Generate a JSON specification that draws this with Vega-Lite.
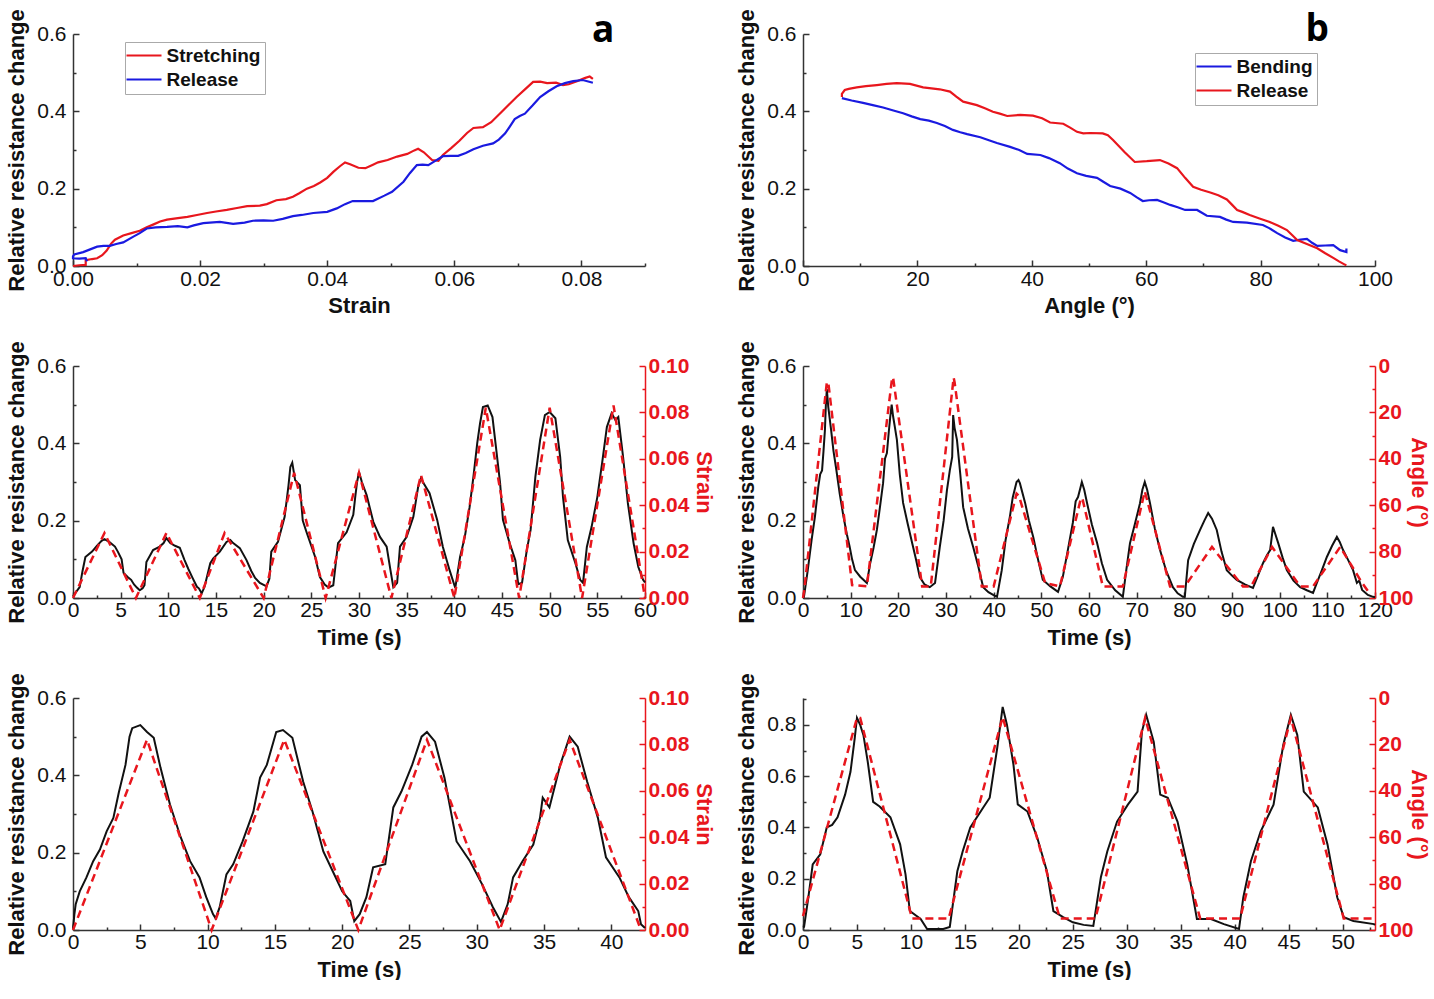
{
"$schema": "https://vega.github.io/schema/vega-lite/v6.json",
"background": "white",
"padding": {"left": 5, "top": 8, "right": 12, "bottom": 0},
"config": {
  "view": {"stroke": null},
  "font": "Liberation Sans",
  "axis": {"grid": false, "domainColor": "#333", "tickColor": "#333", "domainWidth": 1.5, "tickWidth": 1.5, "labelFont": "Liberation Sans", "labelFontSize": 21, "labelColor": "#111", "titleFont": "Liberation Sans", "titleFontSize": 22, "titleFontWeight": "bold", "titleColor": "#111", "labelOverlap": false, "labelFlush": false},
  "legend": {"orient": "none", "title": null, "symbolType": "M-3.5,0H3.5", "symbolSize": 100, "symbolOffset": 5.5, "symbolStrokeWidth": 2.2, "labelFont": "Liberation Sans", "labelFontSize": 19, "labelFontWeight": "bold", "labelColor": "#111", "strokeColor": "#aaa", "fillColor": "white", "padding": 4, "rowPadding": 4, "labelOffset": 13},
  "text": {"font": "Open Sans", "fontWeight": "bold", "fontSize": 37, "align": "center", "baseline": "alphabetic", "color": "#000"}
},
"datasets": {
  "a": [
    {"strain":0,"r":0,"series":"Stretching"},{"strain":0.001,"r":0.002,"series":"Stretching"},{"strain":0.002,"r":0.003,"series":"Stretching"},{"strain":0.002,"r":0.015,"series":"Stretching"},{"strain":0.003,"r":0.018,"series":"Stretching"},{"strain":0.0038,"r":0.02,"series":"Stretching"},{"strain":0.0046,"r":0.028,"series":"Stretching"},{"strain":0.0053,"r":0.04,"series":"Stretching"},{"strain":0.006,"r":0.058,"series":"Stretching"},{"strain":0.0066,"r":0.068,"series":"Stretching"},{"strain":0.0079,"r":0.079,"series":"Stretching"},{"strain":0.0092,"r":0.085,"series":"Stretching"},{"strain":0.0105,"r":0.091,"series":"Stretching"},{"strain":0.0116,"r":0.1,"series":"Stretching"},{"strain":0.0126,"r":0.107,"series":"Stretching"},{"strain":0.0137,"r":0.115,"series":"Stretching"},{"strain":0.0148,"r":0.12,"series":"Stretching"},{"strain":0.0165,"r":0.124,"series":"Stretching"},{"strain":0.018,"r":0.127,"series":"Stretching"},{"strain":0.0195,"r":0.132,"series":"Stretching"},{"strain":0.0211,"r":0.137,"series":"Stretching"},{"strain":0.0225,"r":0.141,"series":"Stretching"},{"strain":0.0242,"r":0.145,"series":"Stretching"},{"strain":0.0258,"r":0.15,"series":"Stretching"},{"strain":0.0274,"r":0.155,"series":"Stretching"},{"strain":0.0294,"r":0.156,"series":"Stretching"},{"strain":0.0305,"r":0.16,"series":"Stretching"},{"strain":0.032,"r":0.17,"series":"Stretching"},{"strain":0.0335,"r":0.173,"series":"Stretching"},{"strain":0.0346,"r":0.179,"series":"Stretching"},{"strain":0.0356,"r":0.188,"series":"Stretching"},{"strain":0.0368,"r":0.2,"series":"Stretching"},{"strain":0.0379,"r":0.207,"series":"Stretching"},{"strain":0.0389,"r":0.216,"series":"Stretching"},{"strain":0.04,"r":0.228,"series":"Stretching"},{"strain":0.041,"r":0.244,"series":"Stretching"},{"strain":0.042,"r":0.258,"series":"Stretching"},{"strain":0.0428,"r":0.268,"series":"Stretching"},{"strain":0.0436,"r":0.263,"series":"Stretching"},{"strain":0.0449,"r":0.254,"series":"Stretching"},{"strain":0.046,"r":0.253,"series":"Stretching"},{"strain":0.0472,"r":0.262,"series":"Stretching"},{"strain":0.048,"r":0.268,"series":"Stretching"},{"strain":0.0495,"r":0.274,"series":"Stretching"},{"strain":0.051,"r":0.283,"series":"Stretching"},{"strain":0.0526,"r":0.29,"series":"Stretching"},{"strain":0.0537,"r":0.299,"series":"Stretching"},{"strain":0.0543,"r":0.303,"series":"Stretching"},{"strain":0.0552,"r":0.294,"series":"Stretching"},{"strain":0.0565,"r":0.274,"series":"Stretching"},{"strain":0.0575,"r":0.272,"series":"Stretching"},{"strain":0.0582,"r":0.287,"series":"Stretching"},{"strain":0.0595,"r":0.305,"series":"Stretching"},{"strain":0.0608,"r":0.324,"series":"Stretching"},{"strain":0.062,"r":0.344,"series":"Stretching"},{"strain":0.063,"r":0.357,"series":"Stretching"},{"strain":0.0645,"r":0.359,"series":"Stretching"},{"strain":0.0658,"r":0.372,"series":"Stretching"},{"strain":0.0677,"r":0.403,"series":"Stretching"},{"strain":0.0698,"r":0.437,"series":"Stretching"},{"strain":0.0712,"r":0.458,"series":"Stretching"},{"strain":0.0724,"r":0.476,"series":"Stretching"},{"strain":0.0735,"r":0.477,"series":"Stretching"},{"strain":0.0746,"r":0.473,"series":"Stretching"},{"strain":0.076,"r":0.474,"series":"Stretching"},{"strain":0.0771,"r":0.468,"series":"Stretching"},{"strain":0.078,"r":0.47,"series":"Stretching"},{"strain":0.0793,"r":0.478,"series":"Stretching"},{"strain":0.0805,"r":0.486,"series":"Stretching"},{"strain":0.0813,"r":0.49,"series":"Stretching"},{"strain":0.0818,"r":0.484,"series":"Stretching"},
    {"strain":0.0818,"r":0.474,"series":"Release"},{"strain":0.0802,"r":0.481,"series":"Release"},{"strain":0.0787,"r":0.478,"series":"Release"},{"strain":0.0774,"r":0.473,"series":"Release"},{"strain":0.0761,"r":0.465,"series":"Release"},{"strain":0.0748,"r":0.452,"series":"Release"},{"strain":0.0735,"r":0.437,"series":"Release"},{"strain":0.0723,"r":0.415,"series":"Release"},{"strain":0.0711,"r":0.394,"series":"Release"},{"strain":0.0703,"r":0.388,"series":"Release"},{"strain":0.0695,"r":0.38,"series":"Release"},{"strain":0.0687,"r":0.36,"series":"Release"},{"strain":0.068,"r":0.343,"series":"Release"},{"strain":0.067,"r":0.327,"series":"Release"},{"strain":0.0661,"r":0.317,"series":"Release"},{"strain":0.0645,"r":0.311,"series":"Release"},{"strain":0.063,"r":0.302,"series":"Release"},{"strain":0.0618,"r":0.292,"series":"Release"},{"strain":0.0606,"r":0.285,"series":"Release"},{"strain":0.0594,"r":0.285,"series":"Release"},{"strain":0.0582,"r":0.284,"series":"Release"},{"strain":0.057,"r":0.272,"series":"Release"},{"strain":0.0559,"r":0.261,"series":"Release"},{"strain":0.055,"r":0.262,"series":"Release"},{"strain":0.0541,"r":0.261,"series":"Release"},{"strain":0.053,"r":0.24,"series":"Release"},{"strain":0.052,"r":0.218,"series":"Release"},{"strain":0.0502,"r":0.192,"series":"Release"},{"strain":0.049,"r":0.182,"series":"Release"},{"strain":0.0472,"r":0.168,"series":"Release"},{"strain":0.0456,"r":0.168,"series":"Release"},{"strain":0.044,"r":0.168,"series":"Release"},{"strain":0.0428,"r":0.16,"series":"Release"},{"strain":0.0415,"r":0.149,"series":"Release"},{"strain":0.04,"r":0.14,"series":"Release"},{"strain":0.0378,"r":0.137,"series":"Release"},{"strain":0.036,"r":0.132,"series":"Release"},{"strain":0.0346,"r":0.129,"series":"Release"},{"strain":0.033,"r":0.122,"series":"Release"},{"strain":0.0315,"r":0.117,"series":"Release"},{"strain":0.03,"r":0.118,"series":"Release"},{"strain":0.0283,"r":0.117,"series":"Release"},{"strain":0.027,"r":0.112,"series":"Release"},{"strain":0.0252,"r":0.109,"series":"Release"},{"strain":0.0231,"r":0.114,"series":"Release"},{"strain":0.0205,"r":0.111,"series":"Release"},{"strain":0.019,"r":0.105,"series":"Release"},{"strain":0.018,"r":0.1,"series":"Release"},{"strain":0.0165,"r":0.103,"series":"Release"},{"strain":0.0148,"r":0.101,"series":"Release"},{"strain":0.013,"r":0.1,"series":"Release"},{"strain":0.0116,"r":0.097,"series":"Release"},{"strain":0.0105,"r":0.085,"series":"Release"},{"strain":0.0095,"r":0.076,"series":"Release"},{"strain":0.0079,"r":0.061,"series":"Release"},{"strain":0.0068,"r":0.057,"series":"Release"},{"strain":0.0058,"r":0.052,"series":"Release"},{"strain":0.0048,"r":0.052,"series":"Release"},{"strain":0.0038,"r":0.05,"series":"Release"},{"strain":0.0027,"r":0.043,"series":"Release"},{"strain":0.0016,"r":0.036,"series":"Release"},{"strain":0.0002,"r":0.03,"series":"Release"},{"strain":0,"r":0.025,"series":"Release"},{"strain":0,"r":0.02,"series":"Release"},{"strain":0.001,"r":0.019,"series":"Release"},{"strain":0.002,"r":0.02,"series":"Release"},{"strain":0.0022,"r":0.012,"series":"Release"}
  ],
  "b": [
    {"angle":6.8,"r":0.434,"series":"Bending"},{"angle":8.5,"r":0.428,"series":"Bending"},{"angle":10.5,"r":0.422,"series":"Bending"},{"angle":12.2,"r":0.416,"series":"Bending"},{"angle":14,"r":0.41,"series":"Bending"},{"angle":15.8,"r":0.402,"series":"Bending"},{"angle":17.5,"r":0.395,"series":"Bending"},{"angle":19,"r":0.387,"series":"Bending"},{"angle":20.5,"r":0.38,"series":"Bending"},{"angle":22,"r":0.376,"series":"Bending"},{"angle":23.4,"r":0.37,"series":"Bending"},{"angle":24.8,"r":0.362,"series":"Bending"},{"angle":26.2,"r":0.352,"series":"Bending"},{"angle":27.5,"r":0.346,"series":"Bending"},{"angle":28.7,"r":0.341,"series":"Bending"},{"angle":31,"r":0.333,"series":"Bending"},{"angle":32.5,"r":0.325,"series":"Bending"},{"angle":33.9,"r":0.318,"series":"Bending"},{"angle":36.2,"r":0.308,"series":"Bending"},{"angle":37.8,"r":0.3,"series":"Bending"},{"angle":39.2,"r":0.29,"series":"Bending"},{"angle":41.5,"r":0.287,"series":"Bending"},{"angle":43,"r":0.279,"series":"Bending"},{"angle":44.9,"r":0.266,"series":"Bending"},{"angle":46.3,"r":0.252,"series":"Bending"},{"angle":47.9,"r":0.24,"series":"Bending"},{"angle":49.5,"r":0.233,"series":"Bending"},{"angle":51.4,"r":0.228,"series":"Bending"},{"angle":52.5,"r":0.218,"series":"Bending"},{"angle":53.7,"r":0.207,"series":"Bending"},{"angle":55.5,"r":0.2,"series":"Bending"},{"angle":57.2,"r":0.189,"series":"Bending"},{"angle":58.3,"r":0.178,"series":"Bending"},{"angle":59.4,"r":0.168,"series":"Bending"},{"angle":60.5,"r":0.17,"series":"Bending"},{"angle":61.9,"r":0.171,"series":"Bending"},{"angle":63,"r":0.165,"series":"Bending"},{"angle":64.2,"r":0.158,"series":"Bending"},{"angle":65.5,"r":0.152,"series":"Bending"},{"angle":66.8,"r":0.145,"series":"Bending"},{"angle":68.9,"r":0.145,"series":"Bending"},{"angle":70.6,"r":0.13,"series":"Bending"},{"angle":72.9,"r":0.127,"series":"Bending"},{"angle":74,"r":0.12,"series":"Bending"},{"angle":75.2,"r":0.114,"series":"Bending"},{"angle":77.6,"r":0.112,"series":"Bending"},{"angle":80.4,"r":0.106,"series":"Bending"},{"angle":81.5,"r":0.098,"series":"Bending"},{"angle":82.9,"r":0.085,"series":"Bending"},{"angle":84.3,"r":0.074,"series":"Bending"},{"angle":85.7,"r":0.065,"series":"Bending"},{"angle":87,"r":0.068,"series":"Bending"},{"angle":88.1,"r":0.07,"series":"Bending"},{"angle":89,"r":0.06,"series":"Bending"},{"angle":89.9,"r":0.052,"series":"Bending"},{"angle":91.3,"r":0.053,"series":"Bending"},{"angle":92.7,"r":0.054,"series":"Bending"},{"angle":93.9,"r":0.041,"series":"Bending"},{"angle":95,"r":0.036,"series":"Bending"},{"angle":95,"r":0.045,"series":"Bending"},
    {"angle":95,"r":0.002,"series":"Release"},{"angle":94.8,"r":0.003,"series":"Release"},{"angle":93.7,"r":0.012,"series":"Release"},{"angle":92.7,"r":0.021,"series":"Release"},{"angle":91.3,"r":0.033,"series":"Release"},{"angle":89.9,"r":0.046,"series":"Release"},{"angle":88.2,"r":0.056,"series":"Release"},{"angle":86.4,"r":0.067,"series":"Release"},{"angle":85.5,"r":0.08,"series":"Release"},{"angle":84.6,"r":0.093,"series":"Release"},{"angle":83.1,"r":0.104,"series":"Release"},{"angle":81.6,"r":0.114,"series":"Release"},{"angle":79.8,"r":0.123,"series":"Release"},{"angle":78.1,"r":0.132,"series":"Release"},{"angle":76.8,"r":0.14,"series":"Release"},{"angle":75.9,"r":0.145,"series":"Release"},{"angle":74.9,"r":0.16,"series":"Release"},{"angle":74.1,"r":0.172,"series":"Release"},{"angle":72.6,"r":0.183,"series":"Release"},{"angle":71.2,"r":0.19,"series":"Release"},{"angle":69.6,"r":0.197,"series":"Release"},{"angle":68.2,"r":0.205,"series":"Release"},{"angle":66.8,"r":0.228,"series":"Release"},{"angle":65.4,"r":0.253,"series":"Release"},{"angle":63.9,"r":0.265,"series":"Release"},{"angle":62.4,"r":0.274,"series":"Release"},{"angle":60.1,"r":0.271,"series":"Release"},{"angle":58,"r":0.269,"series":"Release"},{"angle":56.2,"r":0.295,"series":"Release"},{"angle":54.2,"r":0.326,"series":"Release"},{"angle":53.3,"r":0.338,"series":"Release"},{"angle":52.4,"r":0.343,"series":"Release"},{"angle":50.2,"r":0.344,"series":"Release"},{"angle":49,"r":0.343,"series":"Release"},{"angle":47.9,"r":0.347,"series":"Release"},{"angle":46.7,"r":0.358,"series":"Release"},{"angle":45.5,"r":0.368,"series":"Release"},{"angle":43.2,"r":0.371,"series":"Release"},{"angle":41.8,"r":0.382,"series":"Release"},{"angle":40.2,"r":0.389,"series":"Release"},{"angle":38,"r":0.391,"series":"Release"},{"angle":35.7,"r":0.388,"series":"Release"},{"angle":34.4,"r":0.394,"series":"Release"},{"angle":33.2,"r":0.399,"series":"Release"},{"angle":31.8,"r":0.408,"series":"Release"},{"angle":30.4,"r":0.416,"series":"Release"},{"angle":28,"r":0.425,"series":"Release"},{"angle":26.8,"r":0.438,"series":"Release"},{"angle":25.7,"r":0.451,"series":"Release"},{"angle":23.9,"r":0.457,"series":"Release"},{"angle":21,"r":0.462,"series":"Release"},{"angle":18.7,"r":0.471,"series":"Release"},{"angle":16.4,"r":0.473,"series":"Release"},{"angle":14.6,"r":0.471,"series":"Release"},{"angle":12.9,"r":0.468,"series":"Release"},{"angle":11,"r":0.465,"series":"Release"},{"angle":9.4,"r":0.462,"series":"Release"},{"angle":8,"r":0.458,"series":"Release"},{"angle":7.3,"r":0.455,"series":"Release"},{"angle":6.8,"r":0.445,"series":"Release"},{"angle":6.8,"r":0.437,"series":"Release"}
  ],
  "cR": [{"t":0,"r":0.005},{"t":0.1,"r":0.008},{"t":0.7,"r":0.028},{"t":1,"r":0.07},{"t":1.3,"r":0.106},{"t":2,"r":0.12},{"t":2.5,"r":0.135},{"t":3,"r":0.148},{"t":3.3,"r":0.152},{"t":3.8,"r":0.145},{"t":4.4,"r":0.133},{"t":4.7,"r":0.12},{"t":5.1,"r":0.1},{"t":5.3,"r":0.065},{"t":5.7,"r":0.055},{"t":6.1,"r":0.047},{"t":6.4,"r":0.035},{"t":6.7,"r":0.027},{"t":7,"r":0.02},{"t":7.3,"r":0.025},{"t":7.5,"r":0.033},{"t":7.7,"r":0.093},{"t":8.4,"r":0.124},{"t":9.1,"r":0.133},{"t":9.5,"r":0.142},{"t":9.8,"r":0.155},{"t":10.2,"r":0.142},{"t":10.7,"r":0.135},{"t":11.2,"r":0.13},{"t":11.7,"r":0.098},{"t":12.1,"r":0.075},{"t":12.5,"r":0.054},{"t":13,"r":0.029},{"t":13.2,"r":0.025},{"t":13.5,"r":0.012},{"t":13.8,"r":0.029},{"t":14.4,"r":0.09},{"t":14.7,"r":0.102},{"t":15.4,"r":0.12},{"t":16.1,"r":0.145},{"t":16.5,"r":0.15},{"t":16.8,"r":0.142},{"t":17.5,"r":0.129},{"t":18.2,"r":0.098},{"t":18.7,"r":0.07},{"t":19.1,"r":0.052},{"t":19.6,"r":0.039},{"t":20.3,"r":0.03},{"t":20.6,"r":0.05},{"t":20.8,"r":0.12},{"t":21.5,"r":0.145},{"t":22.2,"r":0.21},{"t":22.6,"r":0.29},{"t":22.8,"r":0.339},{"t":23,"r":0.35},{"t":23.3,"r":0.305},{"t":23.8,"r":0.292},{"t":24.1,"r":0.2},{"t":24.5,"r":0.17},{"t":24.9,"r":0.142},{"t":25.4,"r":0.106},{"t":25.9,"r":0.054},{"t":26.4,"r":0.035},{"t":26.8,"r":0.027},{"t":27.3,"r":0.033},{"t":27.8,"r":0.142},{"t":28.7,"r":0.17},{"t":29.4,"r":0.215},{"t":29.6,"r":0.26},{"t":29.8,"r":0.3},{"t":30,"r":0.326},{"t":30.3,"r":0.3},{"t":30.8,"r":0.266},{"t":31.5,"r":0.197},{"t":32.2,"r":0.158},{"t":32.9,"r":0.133},{"t":33.3,"r":0.072},{"t":33.6,"r":0.028},{"t":34,"r":0.039},{"t":34.3,"r":0.133},{"t":35,"r":0.158},{"t":35.7,"r":0.21},{"t":36.2,"r":0.287},{"t":36.5,"r":0.31},{"t":36.7,"r":0.3},{"t":37.4,"r":0.271},{"t":38.2,"r":0.202},{"t":38.8,"r":0.132},{"t":39.5,"r":0.072},{"t":40.1,"r":0.026},{"t":40.6,"r":0.106},{"t":41.1,"r":0.158},{"t":41.6,"r":0.235},{"t":42,"r":0.313},{"t":42.4,"r":0.4},{"t":42.7,"r":0.452},{"t":43,"r":0.494},{"t":43.5,"r":0.498},{"t":44,"r":0.468},{"t":44.4,"r":0.383},{"t":44.8,"r":0.297},{"t":45.1,"r":0.202},{"t":45.8,"r":0.142},{"t":46.4,"r":0.098},{"t":46.7,"r":0.036},{"t":47.1,"r":0.039},{"t":47.6,"r":0.124},{"t":48,"r":0.176},{"t":48.5,"r":0.313},{"t":49,"r":0.409},{"t":49.5,"r":0.473},{"t":50,"r":0.481},{"t":50.6,"r":0.465},{"t":51.1,"r":0.365},{"t":51.4,"r":0.261},{"t":51.9,"r":0.15},{"t":52.7,"r":0.09},{"t":53.2,"r":0.047},{"t":53.5,"r":0.039},{"t":53.9,"r":0.132},{"t":54.4,"r":0.184},{"t":55,"r":0.261},{"t":55.5,"r":0.349},{"t":56,"r":0.442},{"t":56.5,"r":0.478},{"t":56.9,"r":0.46},{"t":57.2,"r":0.468},{"t":57.7,"r":0.365},{"t":58.2,"r":0.246},{"t":58.8,"r":0.142},{"t":59.3,"r":0.08},{"t":59.8,"r":0.047},{"t":60,"r":0.04}],
  "cS": [{"t":0,"strain":0},{"t":3.3,"strain":0.028},{"t":6.6,"strain":0},{"t":9.8,"strain":0.028},{"t":13.3,"strain":0},{"t":15.9,"strain":0.028},{"t":20,"strain":0},{"t":23.2,"strain":0.054},{"t":26.5,"strain":0},{"t":30,"strain":0.054},{"t":33.4,"strain":0},{"t":36.5,"strain":0.053},{"t":40,"strain":0},{"t":43.3,"strain":0.082},{"t":46.8,"strain":0},{"t":50,"strain":0.082},{"t":53.4,"strain":0},{"t":56.7,"strain":0.083},{"t":60,"strain":0}],
  "dR": [{"t":0,"r":0},{"t":0.2,"r":0.003},{"t":1,"r":0.072},{"t":1.8,"r":0.15},{"t":2.5,"r":0.21},{"t":3.2,"r":0.287},{"t":3.6,"r":0.32},{"t":4,"r":0.33},{"t":4.3,"r":0.38},{"t":4.6,"r":0.434},{"t":4.8,"r":0.5},{"t":5,"r":0.54},{"t":5.3,"r":0.494},{"t":5.9,"r":0.434},{"t":6.4,"r":0.38},{"t":7,"r":0.331},{"t":7.7,"r":0.27},{"t":8.5,"r":0.21},{"t":9.2,"r":0.165},{"t":9.8,"r":0.132},{"t":10.3,"r":0.1},{"t":10.9,"r":0.072},{"t":12,"r":0.055},{"t":13.4,"r":0.039},{"t":14.1,"r":0.09},{"t":14.8,"r":0.13},{"t":15.5,"r":0.176},{"t":16.2,"r":0.24},{"t":16.8,"r":0.297},{"t":17.2,"r":0.36},{"t":17.6,"r":0.375},{"t":18,"r":0.43},{"t":18.3,"r":0.468},{"t":18.6,"r":0.5},{"t":18.9,"r":0.47},{"t":19.3,"r":0.44},{"t":19.7,"r":0.409},{"t":20.3,"r":0.32},{"t":21,"r":0.246},{"t":22,"r":0.19},{"t":22.9,"r":0.142},{"t":23.7,"r":0.1},{"t":24.5,"r":0.054},{"t":25.5,"r":0.035},{"t":26.6,"r":0.028},{"t":27.7,"r":0.039},{"t":28.7,"r":0.132},{"t":29.5,"r":0.2},{"t":30.2,"r":0.279},{"t":30.8,"r":0.33},{"t":31.3,"r":0.365},{"t":31.5,"r":0.473},{"t":31.8,"r":0.44},{"t":32.3,"r":0.409},{"t":33,"r":0.32},{"t":33.6,"r":0.235},{"t":34.6,"r":0.18},{"t":35.7,"r":0.132},{"t":36.8,"r":0.08},{"t":37.8,"r":0.028},{"t":38.9,"r":0.015},{"t":39.9,"r":0.008},{"t":40.7,"r":0.003},{"t":41.7,"r":0.072},{"t":42.5,"r":0.15},{"t":43.4,"r":0.21},{"t":44,"r":0.26},{"t":44.8,"r":0.3},{"t":45.2,"r":0.305},{"t":45.5,"r":0.297},{"t":46.6,"r":0.246},{"t":47.4,"r":0.2},{"t":48.3,"r":0.158},{"t":49.3,"r":0.1},{"t":50.3,"r":0.047},{"t":51.9,"r":0.03},{"t":53.5,"r":0.016},{"t":54.5,"r":0.054},{"t":55.5,"r":0.12},{"t":56.6,"r":0.194},{"t":57.2,"r":0.25},{"t":57.7,"r":0.261},{"t":58.2,"r":0.285},{"t":58.5,"r":0.3},{"t":59,"r":0.28},{"t":59.6,"r":0.245},{"t":60.6,"r":0.19},{"t":61.7,"r":0.142},{"t":62.7,"r":0.09},{"t":63.8,"r":0.047},{"t":65.5,"r":0.02},{"t":67.1,"r":0.003},{"t":67.8,"r":0.07},{"t":68.6,"r":0.142},{"t":69.6,"r":0.19},{"t":70.7,"r":0.245},{"t":71.2,"r":0.28},{"t":71.7,"r":0.3},{"t":72.2,"r":0.28},{"t":72.8,"r":0.245},{"t":73.8,"r":0.18},{"t":74.9,"r":0.124},{"t":76.2,"r":0.07},{"t":77.6,"r":0.028},{"t":78.6,"r":0.012},{"t":79.7,"r":0.003},{"t":80.1,"r":0.003},{"t":80.8,"r":0.098},{"t":82,"r":0.14},{"t":83.3,"r":0.176},{"t":84.2,"r":0.2},{"t":85,"r":0.22},{"t":85.8,"r":0.205},{"t":86.8,"r":0.176},{"t":87.8,"r":0.12},{"t":88.9,"r":0.072},{"t":90,"r":0.058},{"t":91,"r":0.047},{"t":92.7,"r":0.035},{"t":94.4,"r":0.026},{"t":95.5,"r":0.06},{"t":96.5,"r":0.09},{"t":97.3,"r":0.11},{"t":98,"r":0.124},{"t":98.6,"r":0.184},{"t":99.1,"r":0.165},{"t":99.7,"r":0.142},{"t":100.6,"r":0.105},{"t":101.5,"r":0.072},{"t":102.9,"r":0.045},{"t":104.3,"r":0.028},{"t":105.7,"r":0.02},{"t":107,"r":0.013},{"t":107.8,"r":0.039},{"t":108.8,"r":0.07},{"t":109.9,"r":0.106},{"t":111,"r":0.135},{"t":112,"r":0.158},{"t":112.6,"r":0.145},{"t":113.3,"r":0.124},{"t":114.3,"r":0.1},{"t":115.4,"r":0.072},{"t":116.2,"r":0.039},{"t":116.7,"r":0.045},{"t":117.3,"r":0.021},{"t":118.5,"r":0.008},{"t":119.6,"r":0.003},{"t":120,"r":0.002}],
  "dA": [{"t":0,"angle":100},{"t":0.3,"angle":96},{"t":5,"angle":7},{"t":5.3,"angle":7},{"t":10.3,"angle":94.4},{"t":13.4,"angle":95},{"t":18.7,"angle":5},{"t":18.9,"angle":5},{"t":25,"angle":95},{"t":26.8,"angle":95},{"t":31.6,"angle":5},{"t":31.8,"angle":7},{"t":37.5,"angle":95},{"t":40,"angle":95},{"t":44.8,"angle":55},{"t":45.3,"angle":56},{"t":50.8,"angle":93.5},{"t":53.9,"angle":95},{"t":58.3,"angle":57},{"t":58.6,"angle":57},{"t":62.9,"angle":95},{"t":67.1,"angle":95},{"t":71.7,"angle":54},{"t":77,"angle":95},{"t":80.1,"angle":95},{"t":85.8,"angle":78},{"t":92.3,"angle":95},{"t":94,"angle":95},{"t":98.4,"angle":78},{"t":104.3,"angle":95},{"t":107,"angle":95},{"t":112.7,"angle":78},{"t":117.3,"angle":93.5},{"t":118.5,"angle":97}],
  "eR": [{"t":0,"r":0.003},{"t":0.1,"r":0.04},{"t":0.2,"r":0.067},{"t":0.5,"r":0.1},{"t":1,"r":0.136},{"t":1.5,"r":0.178},{"t":2,"r":0.208},{"t":2.5,"r":0.255},{"t":3,"r":0.29},{"t":3.4,"r":0.355},{"t":3.9,"r":0.427},{"t":4.2,"r":0.5},{"t":4.4,"r":0.522},{"t":5,"r":0.53},{"t":5.5,"r":0.512},{"t":6,"r":0.497},{"t":6.5,"r":0.42},{"t":7.2,"r":0.325},{"t":8,"r":0.24},{"t":8.7,"r":0.178},{"t":9.4,"r":0.136},{"t":9.9,"r":0.085},{"t":10.4,"r":0.041},{"t":10.6,"r":0.03},{"t":10.9,"r":0.059},{"t":11.4,"r":0.144},{"t":11.9,"r":0.17},{"t":12.6,"r":0.229},{"t":13.4,"r":0.306},{"t":13.9,"r":0.394},{"t":14.4,"r":0.427},{"t":15.1,"r":0.512},{"t":15.6,"r":0.517},{"t":16.3,"r":0.497},{"t":17.1,"r":0.384},{"t":17.8,"r":0.306},{"t":18.6,"r":0.203},{"t":19.3,"r":0.152},{"t":20,"r":0.1},{"t":20.6,"r":0.075},{"t":20.9,"r":0.023},{"t":21.3,"r":0.041},{"t":21.8,"r":0.085},{"t":22.3,"r":0.162},{"t":23.2,"r":0.17},{"t":23.8,"r":0.317},{"t":24.4,"r":0.358},{"t":25.2,"r":0.427},{"t":25.9,"r":0.5},{"t":26.3,"r":0.512},{"t":26.9,"r":0.487},{"t":27.6,"r":0.394},{"t":28.5,"r":0.229},{"t":29.5,"r":0.178},{"t":30.4,"r":0.118},{"t":31.2,"r":0.059},{"t":31.8,"r":0.021},{"t":32.3,"r":0.067},{"t":32.7,"r":0.136},{"t":33.4,"r":0.178},{"t":34.2,"r":0.221},{"t":34.7,"r":0.29},{"t":34.9,"r":0.342},{"t":35.4,"r":0.317},{"t":36.2,"r":0.427},{"t":36.9,"r":0.5},{"t":37.5,"r":0.474},{"t":38.2,"r":0.384},{"t":39,"r":0.29},{"t":39.6,"r":0.188},{"t":40.6,"r":0.136},{"t":41.3,"r":0.085},{"t":42,"r":0.049},{"t":42.2,"r":0.015},{"t":42.5,"r":0.005}],
  "eS": [{"t":0,"strain":0},{"t":5.5,"strain":0.082},{"t":10.3,"strain":0},{"t":15.7,"strain":0.082},{"t":21.2,"strain":0},{"t":26.3,"strain":0.082},{"t":31.7,"strain":0},{"t":36.9,"strain":0.082},{"t":42.2,"strain":0}],
  "fR": [{"t":0,"r":0.01},{"t":0.1,"r":0.012},{"t":0.5,"r":0.128},{"t":0.9,"r":0.256},{"t":1.6,"r":0.295},{"t":2.2,"r":0.4},{"t":2.7,"r":0.41},{"t":3.2,"r":0.44},{"t":3.9,"r":0.528},{"t":4.4,"r":0.617},{"t":4.8,"r":0.75},{"t":5,"r":0.827},{"t":5.3,"r":0.8},{"t":5.6,"r":0.76},{"t":6,"r":0.656},{"t":6.5,"r":0.5},{"t":7.1,"r":0.482},{"t":8.1,"r":0.44},{"t":9,"r":0.334},{"t":9.5,"r":0.217},{"t":9.9,"r":0.074},{"t":10.9,"r":0.043},{"t":11.5,"r":0.004},{"t":13,"r":0.004},{"t":13.6,"r":0.012},{"t":14.3,"r":0.229},{"t":14.8,"r":0.307},{"t":15.5,"r":0.4},{"t":16.7,"r":0.478},{"t":17.3,"r":0.516},{"t":18,"r":0.711},{"t":18.5,"r":0.87},{"t":18.9,"r":0.8},{"t":19.5,"r":0.645},{"t":19.9,"r":0.49},{"t":20.8,"r":0.462},{"t":21.7,"r":0.361},{"t":22.6,"r":0.229},{"t":23.2,"r":0.074},{"t":24.1,"r":0.05},{"t":25,"r":0.03},{"t":26,"r":0.02},{"t":26.9,"r":0.016},{"t":27.6,"r":0.206},{"t":28.2,"r":0.307},{"t":29.1,"r":0.423},{"t":30.1,"r":0.489},{"t":31,"r":0.54},{"t":31.4,"r":0.773},{"t":31.8,"r":0.839},{"t":32.5,"r":0.734},{"t":33.1,"r":0.528},{"t":33.8,"r":0.516},{"t":34.7,"r":0.423},{"t":35.6,"r":0.256},{"t":36.5,"r":0.043},{"t":37.8,"r":0.043},{"t":39,"r":0.023},{"t":40.4,"r":0.004},{"t":40.8,"r":0.128},{"t":41.5,"r":0.268},{"t":42.4,"r":0.384},{"t":43.6,"r":0.489},{"t":44.5,"r":0.722},{"t":45.2,"r":0.839},{"t":45.8,"r":0.761},{"t":46.4,"r":0.54},{"t":47.7,"r":0.478},{"t":48.6,"r":0.334},{"t":49.5,"r":0.128},{"t":50.1,"r":0.05},{"t":51,"r":0.035},{"t":52.9,"r":0.023},{"t":53,"r":0.02}],
  "fA": [{"t":0,"angle":94},{"t":5,"angle":8.6},{"t":5.3,"angle":8.6},{"t":10.1,"angle":95},{"t":13.5,"angle":95},{"t":18.5,"angle":8.2},{"t":23.8,"angle":95},{"t":27.1,"angle":95},{"t":31.7,"angle":8.6},{"t":36.8,"angle":95},{"t":40.5,"angle":95},{"t":45.2,"angle":8.6},{"t":50.1,"angle":95},{"t":53,"angle":95}]
},
"concat": [
    {"width": 572, "height": 232,
     "layer": [
      {"data": {"name": "a"}, "mark": {"type": "line", "strokeWidth": 2.2},
       "encoding": {
        "x": {"field": "strain", "type": "quantitative", "scale": {"domain": [0, 0.09], "nice": false, "zero": false},
              "axis": {"title": "Strain", "values": [0,0.01,0.02,0.03,0.04,0.05,0.06,0.07,0.08,0.09], "labelExpr": "round(datum.value*100)%2==1 ? '' : format(datum.value,'.2f')", "tickSize": {"condition": {"test": "round(datum.value*100)%2==1", "value": -3}, "value": -6}, "labelPadding": 8, "titlePadding": 3}},
        "y": {"field": "r", "type": "quantitative", "scale": {"domain": [0, 0.6], "nice": false},
              "axis": {"title": "Relative resistance change", "values": [0,0.1,0.2,0.3,0.4,0.5,0.6], "labelExpr": "round(datum.value*10)%2==1 ? '' : format(datum.value,'.1f')", "tickSize": {"condition": {"test": "round(datum.value*10)%2==1", "value": -3}, "value": -6}, "labelPadding": 13, "titlePadding": 8}},
        "color": {"field": "series", "type": "nominal", "scale": {"domain": ["Stretching", "Release"], "range": ["#e8161d", "#1a1ae0"]},
                  "legend": {"legendX": 52, "legendY": 8}},
        "order": {"value": null}
       }},
      {"data": {"values": [{}]}, "mark": {"type": "text"},
       "encoding": {"x": {"datum": 0.0834, "type": "quantitative"}, "y": {"datum": 0.579, "type": "quantitative", "scale": {"domain": [0, 0.6], "nice": false}, "axis": null}, "text": {"value": "a"}}}
     ],
     "resolve": {"scale": {"y": "independent"}}},
    {"width": 572, "height": 232,
     "layer": [
      {"data": {"name": "b"}, "mark": {"type": "line", "strokeWidth": 2.2},
       "encoding": {
        "x": {"field": "angle", "type": "quantitative", "scale": {"domain": [0, 100], "nice": false},
              "axis": {"title": "Angle (°)", "values": [0,10,20,30,40,50,60,70,80,90,100], "labelExpr": "round(datum.value/10)%2==1 ? '' : format(datum.value,'d')", "tickSize": {"condition": {"test": "round(datum.value/10)%2==1", "value": -3}, "value": -6}, "labelPadding": 8, "titlePadding": 3}},
        "y": {"field": "r", "type": "quantitative", "scale": {"domain": [0, 0.6], "nice": false},
              "axis": {"title": "Relative resistance change", "values": [0,0.1,0.2,0.3,0.4,0.5,0.6], "labelExpr": "round(datum.value*10)%2==1 ? '' : format(datum.value,'.1f')", "tickSize": {"condition": {"test": "round(datum.value*10)%2==1", "value": -3}, "value": -6}, "labelPadding": 13, "titlePadding": 8}},
        "color": {"field": "series", "type": "nominal", "scale": {"domain": ["Bending", "Release"], "range": ["#1a1ae0", "#e8161d"]},
                  "legend": {"legendX": 392, "legendY": 19}},
        "order": {"value": null}
       }},
      {"data": {"values": [{}]}, "mark": {"type": "text"},
       "encoding": {"x": {"datum": 89.9, "type": "quantitative"}, "y": {"datum": 0.582, "type": "quantitative", "scale": {"domain": [0, 0.6], "nice": false}, "axis": null}, "text": {"value": "b"}}}
     ],
     "resolve": {"scale": {"y": "independent"}}},
    {"width": 572, "height": 232,
     "encoding": {"x": {"field": "t", "type": "quantitative", "scale": {"domain": [0, 60], "nice": false},
        "axis": {"title": "Time (s)", "values": [0,2.5,5,7.5,10,12.5,15,17.5,20,22.5,25,27.5,30,32.5,35,37.5,40,42.5,45,47.5,50,52.5,55,57.5,60], "labelExpr": "round(datum.value*2)%2==1 ? '' : format(datum.value,'d')", "tickSize": {"condition": {"test": "round(datum.value*2)%2==1", "value": -3}, "value": -6}, "labelPadding": 7, "titlePadding": 4}}},
     "layer": [
      {"data": {"name": "cR"}, "mark": {"type": "line", "color": "#111", "strokeWidth": 2},
       "encoding": {"y": {"field": "r", "type": "quantitative", "scale": {"domain": [0, 0.6], "nice": false},
              "axis": {"title": "Relative resistance change", "values": [0,0.1,0.2,0.3,0.4,0.5,0.6], "labelExpr": "round(datum.value*10)%2==1 ? '' : format(datum.value,'.1f')", "tickSize": {"condition": {"test": "round(datum.value*10)%2==1", "value": -3}, "value": -6}, "labelPadding": 13, "titlePadding": 8}}}},
      {"data": {"name": "cS"}, "mark": {"type": "line", "color": "#e8161d", "strokeWidth": 2.5, "strokeDash": [8, 5]},
       "encoding": {"y": {"field": "strain", "type": "quantitative", "scale": {"domain": [0, 0.1], "nice": false},
              "axis": {"orient": "right", "title": "Strain", "titleColor": "#e8161d", "labelColor": "#e8161d", "labelFontWeight": "bold", "domainColor": "#e8161d", "tickColor": "#e8161d", "values": [0,0.01,0.02,0.03,0.04,0.05,0.06,0.07,0.08,0.09,0.1], "labelExpr": "round(datum.value*100)%2==1 ? '' : format(datum.value,'.2f')", "tickSize": {"condition": {"test": "round(datum.value*100)%2==1", "value": -3}, "value": -6}, "labelPadding": 9, "titlePadding": 3}}}},
      {"data": {"values": [{}]}, "mark": {"type": "text"},
       "encoding": {"x": {"datum": 55.5, "type": "quantitative"}, "y": {"datum": 0.597, "type": "quantitative", "scale": {"domain": [0, 0.6], "nice": false}, "axis": null}, "text": {"value": "c"}}}
     ],
     "resolve": {"scale": {"y": "independent"}}},
    {"width": 572, "height": 232,
     "encoding": {"x": {"field": "t", "type": "quantitative", "scale": {"domain": [0, 120], "nice": false},
        "axis": {"title": "Time (s)", "values": [0,5,10,15,20,25,30,35,40,45,50,55,60,65,70,75,80,85,90,95,100,105,110,115,120], "labelExpr": "round(datum.value/5)%2==1 ? '' : format(datum.value,'d')", "tickSize": {"condition": {"test": "round(datum.value/5)%2==1", "value": -3}, "value": -6}, "labelPadding": 7, "titlePadding": 4}}},
     "layer": [
      {"data": {"name": "dR"}, "mark": {"type": "line", "color": "#111", "strokeWidth": 2},
       "encoding": {"y": {"field": "r", "type": "quantitative", "scale": {"domain": [0, 0.6], "nice": false},
              "axis": {"title": "Relative resistance change", "values": [0,0.1,0.2,0.3,0.4,0.5,0.6], "labelExpr": "round(datum.value*10)%2==1 ? '' : format(datum.value,'.1f')", "tickSize": {"condition": {"test": "round(datum.value*10)%2==1", "value": -3}, "value": -6}, "labelPadding": 13, "titlePadding": 8}}}},
      {"data": {"name": "dA"}, "mark": {"type": "line", "color": "#e8161d", "strokeWidth": 2.5, "strokeDash": [8, 5]},
       "encoding": {"y": {"field": "angle", "type": "quantitative", "scale": {"domain": [0, 100], "nice": false, "reverse": true},
              "axis": {"orient": "right", "title": "Angle (°)", "titleColor": "#e8161d", "labelColor": "#e8161d", "labelFontWeight": "bold", "domainColor": "#e8161d", "tickColor": "#e8161d", "values": [0,10,20,30,40,50,60,70,80,90,100], "labelExpr": "round(datum.value/10)%2==1 ? '' : format(datum.value,'d')", "tickSize": {"condition": {"test": "round(datum.value/10)%2==1", "value": -3}, "value": -6}, "labelPadding": 9, "titleX": 43, "titleY": 116, "titleAngle": 90, "titleAlign": "center", "titleBaseline": "middle"}}}},
      {"data": {"values": [{}]}, "mark": {"type": "text"},
       "encoding": {"x": {"datum": 107.8, "type": "quantitative"}, "y": {"datum": 0.592, "type": "quantitative", "scale": {"domain": [0, 0.6], "nice": false}, "axis": null}, "text": {"value": "d"}}}
     ],
     "resolve": {"scale": {"y": "independent"}}},
    {"width": 572, "height": 232,
     "encoding": {"x": {"field": "t", "type": "quantitative", "scale": {"domain": [0, 42.5], "nice": false},
        "axis": {"title": "Time (s)", "values": [0,2.5,5,7.5,10,12.5,15,17.5,20,22.5,25,27.5,30,32.5,35,37.5,40], "labelExpr": "round(datum.value*2)%2==1 ? '' : format(datum.value,'d')", "tickSize": {"condition": {"test": "round(datum.value*2)%2==1", "value": -3}, "value": -6}, "labelPadding": 7, "titlePadding": 4}}},
     "layer": [
      {"data": {"name": "eR"}, "mark": {"type": "line", "color": "#111", "strokeWidth": 2},
       "encoding": {"y": {"field": "r", "type": "quantitative", "scale": {"domain": [0, 0.6], "nice": false},
              "axis": {"title": "Relative resistance change", "values": [0,0.1,0.2,0.3,0.4,0.5,0.6], "labelExpr": "round(datum.value*10)%2==1 ? '' : format(datum.value,'.1f')", "tickSize": {"condition": {"test": "round(datum.value*10)%2==1", "value": -3}, "value": -6}, "labelPadding": 13, "titlePadding": 8}}}},
      {"data": {"name": "eS"}, "mark": {"type": "line", "color": "#e8161d", "strokeWidth": 2.5, "strokeDash": [8, 5]},
       "encoding": {"y": {"field": "strain", "type": "quantitative", "scale": {"domain": [0, 0.1], "nice": false},
              "axis": {"orient": "right", "title": "Strain", "titleColor": "#e8161d", "labelColor": "#e8161d", "labelFontWeight": "bold", "domainColor": "#e8161d", "tickColor": "#e8161d", "values": [0,0.01,0.02,0.03,0.04,0.05,0.06,0.07,0.08,0.09,0.1], "labelExpr": "round(datum.value*100)%2==1 ? '' : format(datum.value,'.2f')", "tickSize": {"condition": {"test": "round(datum.value*100)%2==1", "value": -3}, "value": -6}, "labelPadding": 9, "titlePadding": 3}}}},
      {"data": {"values": [{}]}, "mark": {"type": "text"},
       "encoding": {"x": {"datum": 39.35, "type": "quantitative"}, "y": {"datum": 0.585, "type": "quantitative", "scale": {"domain": [0, 0.6], "nice": false}, "axis": null}, "text": {"value": "e"}}}
     ],
     "resolve": {"scale": {"y": "independent"}}},
    {"width": 572, "height": 232,
     "encoding": {"x": {"field": "t", "type": "quantitative", "scale": {"domain": [0, 53], "nice": false},
        "axis": {"title": "Time (s)", "values": [0,2.5,5,7.5,10,12.5,15,17.5,20,22.5,25,27.5,30,32.5,35,37.5,40,42.5,45,47.5,50,52.5], "labelExpr": "round(datum.value*2)%2==1 ? '' : format(datum.value,'d')", "tickSize": {"condition": {"test": "round(datum.value*2)%2==1", "value": -3}, "value": -6}, "labelPadding": 7, "titlePadding": 4}}},
     "layer": [
      {"data": {"name": "fR"}, "mark": {"type": "line", "color": "#111", "strokeWidth": 2},
       "encoding": {"y": {"field": "r", "type": "quantitative", "scale": {"domain": [0, 0.905], "nice": false},
              "axis": {"title": "Relative resistance change", "values": [0,0.1,0.2,0.3,0.4,0.5,0.6,0.7,0.8,0.9], "labelExpr": "round(datum.value*10)%2==1 ? '' : format(datum.value,'.1f')", "tickSize": {"condition": {"test": "round(datum.value*10)%2==1", "value": -3}, "value": -6}, "labelPadding": 13, "titlePadding": 8}}}},
      {"data": {"name": "fA"}, "mark": {"type": "line", "color": "#e8161d", "strokeWidth": 2.5, "strokeDash": [8, 5]},
       "encoding": {"y": {"field": "angle", "type": "quantitative", "scale": {"domain": [0, 100], "nice": false, "reverse": true},
              "axis": {"orient": "right", "title": "Angle (°)", "titleColor": "#e8161d", "labelColor": "#e8161d", "labelFontWeight": "bold", "domainColor": "#e8161d", "tickColor": "#e8161d", "values": [0,10,20,30,40,50,60,70,80,90,100], "labelExpr": "round(datum.value/10)%2==1 ? '' : format(datum.value,'d')", "tickSize": {"condition": {"test": "round(datum.value/10)%2==1", "value": -3}, "value": -6}, "labelPadding": 9, "titleX": 43, "titleY": 116, "titleAngle": 90, "titleAlign": "center", "titleBaseline": "middle"}}}},
      {"data": {"values": [{}]}, "mark": {"type": "text"},
       "encoding": {"x": {"datum": 47.2, "type": "quantitative"}, "y": {"datum": 0.882, "type": "quantitative", "scale": {"domain": [0, 0.905], "nice": false}, "axis": null}, "text": {"value": "f"}}}
     ],
     "resolve": {"scale": {"y": "independent"}}}
],
"columns": 2,
"spacing": {"row": 100, "column": 158},
"bounds": "flush",
"resolve": {"scale": {"color": "independent"}}
}
